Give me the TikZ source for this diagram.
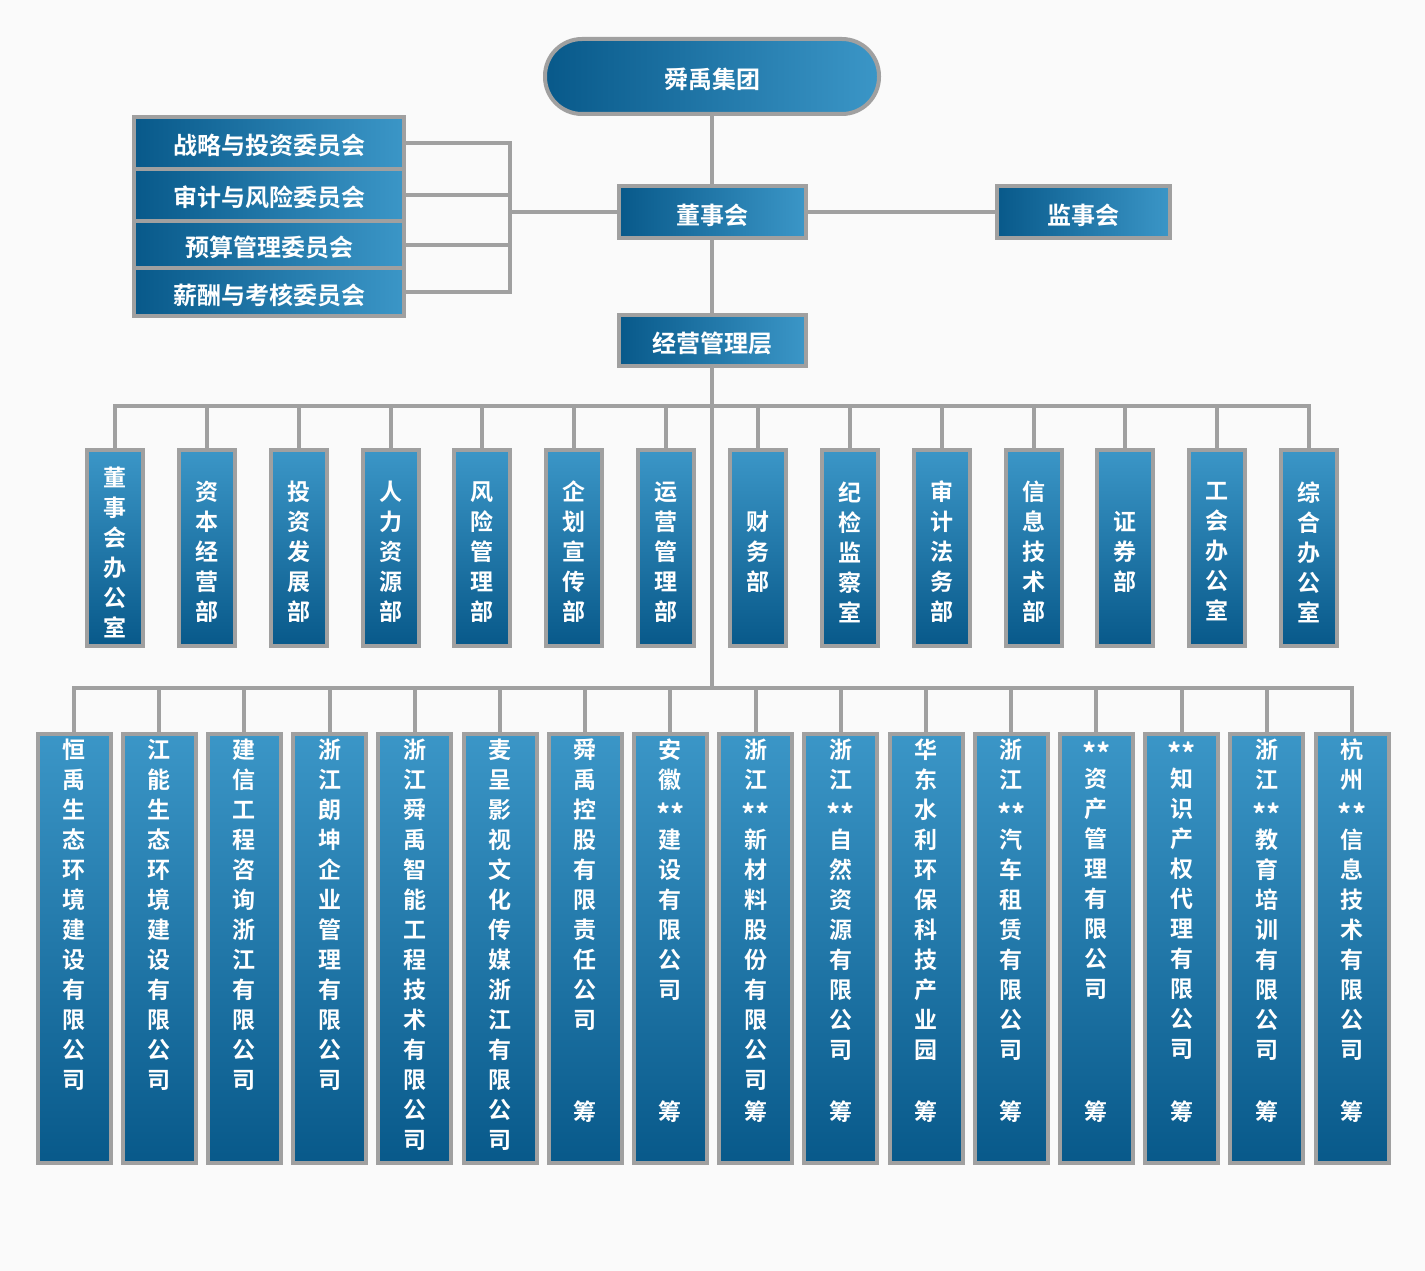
\documentclass[tikz,border=0pt]{standalone}
\usepackage{fontspec}
\newfontfamily\cjk{Noto Sans CJK SC}[BoldFont={Noto Sans CJK SC Bold}]
\definecolor{boxdark}{HTML}{08598A}
\definecolor{boxlight}{HTML}{3B96C7}
\definecolor{linegray}{HTML}{A0A0A0}
\definecolor{paper}{HTML}{FAFAFA}
\newcommand\stars{\vphantom{司}\raisebox{-7pt}{\fontsize{28}{30}\selectfont **}}
\newcommand\chou{\par\vspace{0pt plus 1fill}筹\par\vspace*{40pt}}
\newcommand\deptbox[1]{\parbox[c][196pt][c]{30pt}{\centering\vspace*{8pt}#1}}
\newcommand\colbox[1]{\parbox[c][429pt][t]{30pt}{\centering\vspace*{5pt}#1}}
\begin{document}
\begin{tikzpicture}[%
            x=1pt, y=-1pt,
            box/.style={draw=linegray, line width=4pt, inner sep=0pt, text=white,
                font=\cjk\bfseries\fontsize{24}{28}\selectfont},
            hbox/.style={box, left color=boxdark, right color=boxlight,
                text height=26pt, text depth=2pt},
            vbox/.style={box, top color=boxlight, bottom color=boxdark, align=center,
                font=\cjk\bfseries\fontsize{23}{30}\selectfont},
            link/.style={draw=linegray, line width=4pt}
    ]
        \fill [paper] (0,0) rectangle (1425,1271);

        \node [hbox, rounded corners=37pt, minimum width=334pt, minimum height=75pt]
            (group) at (712,76.5) {舜禹集团};
        \node [hbox, minimum width=187pt, minimum height=52pt] (board) at (712,212) {董事会};
        \node [hbox, minimum width=173pt, minimum height=52pt] (super) at (1083.5,212) {监事会};
        \node [hbox, minimum width=187pt, minimum height=51pt] (mgmt) at (712,340.5) {经营管理层};

        \foreach \txt/\y/\h [count=\i] in {战略与投资委员会/143/52, 审计与风险委员会/195/52,
                预算管理委员会/244.5/47, 薪酬与考核委员会/292/48}
            \node [hbox, minimum width=270pt, minimum height=\h pt] (c\i) at (269,\y) {\txt};

        \foreach \txt [count=\i] in {董\\事\\会\\办\\公\\室, 资\\本\\经\\营\\部, 投\\资\\发\\展\\部,
                人\\力\\资\\源\\部, 风\\险\\管\\理\\部, 企\\划\\宣\\传\\部, 运\\营\\管\\理\\部,
                财\\务\\部, 纪\\检\\监\\察\\室, 审\\计\\法\\务\\部, 信\\息\\技\\术\\部,
                证\\券\\部, 工\\会\\办\\公\\室, 综\\合\\办\\公\\室}
            \node [vbox, minimum width=56pt, minimum height=196pt]
                (d\i) at ({115+91.85*(\i-1)},548) {\deptbox{\txt}};

        \foreach \txt [count=\i] in {恒\\禹\\生\\态\\环\\境\\建\\设\\有\\限\\公\\司,
                江\\能\\生\\态\\环\\境\\建\\设\\有\\限\\公\\司,
                建\\信\\工\\程\\咨\\询\\浙\\江\\有\\限\\公\\司,
                浙\\江\\朗\\坤\\企\\业\\管\\理\\有\\限\\公\\司,
                浙\\江\\舜\\禹\\智\\能\\工\\程\\技\\术\\有\\限\\公\\司,
                麦\\呈\\影\\视\\文\\化\\传\\媒\\浙\\江\\有\\限\\公\\司,
                舜\\禹\\控\\股\\有\\限\\责\\任\\公\\司\chou,
                安\\徽\\\stars\\建\\设\\有\\限\\公\\司\chou,
                浙\\江\\\stars\\新\\材\\料\\股\\份\\有\\限\\公\\司\chou,
                浙\\江\\\stars\\自\\然\\资\\源\\有\\限\\公\\司\chou,
                华\\东\\水\\利\\环\\保\\科\\技\\产\\业\\园\chou,
                浙\\江\\\stars\\汽\\车\\租\\赁\\有\\限\\公\\司\chou,
                \stars\\资\\产\\管\\理\\有\\限\\公\\司\chou,
                \stars\\知\\识\\产\\权\\代\\理\\有\\限\\公\\司\chou,
                浙\\江\\\stars\\教\\育\\培\\训\\有\\限\\公\\司\chou,
                杭\\州\\\stars\\信\\息\\技\\术\\有\\限\\公\\司\chou}
            \node [vbox, minimum width=73pt, minimum height=429pt]
                (s\i) at ({74+85.2*(\i-1)},948.5) {\colbox{\txt}};

        \coordinate (brk) at (510,212);
        \coordinate (bus1) at (712,406);
        \coordinate (bus2) at (712,688);

        \draw [link] (group.south) -- (board.north);
        \draw [link] (board.south) -- (mgmt.north);
        \draw [link] (board.east) -- (super.west);
        \draw [link] (mgmt.south) -- (bus2);
        \draw [link] (brk) -- (board.west);
        \foreach \i in {1,...,4}
            \draw [link] (c\i.east) -| (brk);
        \foreach \i in {1,...,14}
            \draw [link] (d\i.north) |- (bus1);
        \foreach \i in {1,...,16}
            \draw [link] (s\i.north) |- (bus2);
    \end{tikzpicture}
\end{document}
